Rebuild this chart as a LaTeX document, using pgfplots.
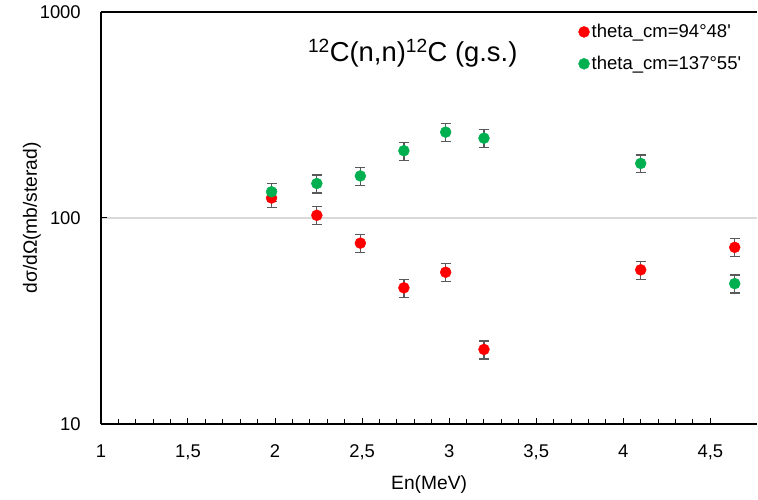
\documentclass[border=0pt]{standalone}
\usepackage{pgfplots}
\pgfplotsset{compat=1.18}
\usepackage{pgfplotstable}
\usepackage{fontspec}
\setmainfont{Liberation Sans}
\definecolor{cred}{HTML}{FF0000}
\definecolor{cgreen}{HTML}{00B050}
\definecolor{cerr}{HTML}{595959}
\definecolor{cgrid}{HTML}{D9D9D9}
\newcommand\tlf{\fontsize{18.5}{22}\selectfont}
\newcommand\lgf{\fontsize{18.6}{22}\selectfont}
\pgfplotstableread{
x y e
1.98 125 12.5
2.24 103 10.3
2.49 75.5 7.5
2.74 45.8 4.6
2.98 54.5 5.5
3.20 23.0 2.3
4.10 56.0 5.6
4.64 72.0 7.2
}\red
\pgfplotstableread{
x y e
1.98 134 13.4
2.24 147 14.7
2.49 160 16.0
2.74 212 21.2
2.98 261 26.1
3.20 244 24.4
4.10 184 18.4
4.64 48.0 4.8
}\green
\begin{document}
\begin{tikzpicture}
\begin{axis}[
  name=ax,
  scale only axis,
  width=657bp, height=412.3bp,
  xmin=1, xmax=4.77,
  ymode=log, ymin=10, ymax=1000,
  log basis y=10,
  axis x line=bottom, axis y line=left,
  axis line style={black, line width=1.3bp, -},
  xtick={1,1.5,2,2.5,3,3.5,4,4.5},
  xticklabels={{\tlf 1},{\tlf 1,5},{\tlf 2},{\tlf 2,5},{\tlf 3},{\tlf 3,5},{\tlf 4},{\tlf 4,5}},
  minor x tick num=4,
  ytick={10,100,1000},
  yticklabels={{\tlf 10},{\tlf 100},{\tlf 1000}},
  tick align=inside,
  major tick length=6bp, minor tick length=4.5bp,
  tick style={black, line width=1bp},
  ymajorgrids, major grid style={cgrid, line width=1.2bp},
  xticklabel style={anchor=north, inner sep=0pt, yshift=-21bp},
  yticklabel style={anchor=east, inner sep=0pt, xshift=-20bp},
  xlabel={En(MeV)},
  ylabel={dσ/dΩ(mb/sterad)},
  label style={font=\fontsize{19.3}{22}\selectfont},
  xlabel style={at={(axis description cs:0.5,-0.147)}, anchor=center},
  ylabel style={at={(axis description cs:-0.105,0.5)}, anchor=center},
  clip=false,
  legend style={at={(rel axis cs:0.727,0.975)}, anchor=north west, draw=none, fill=none,
    row sep=13bp, inner sep=0pt, font=\lgf,
    /tikz/every even column/.append style={column sep=3bp}},
  legend cell align=left,
  legend image code/.code={\fill (0bp,0bp) circle (5.5bp);},
  error bars/y dir=both, error bars/y explicit,
  error bars/error bar style={cerr, line width=1.3bp},
  error bars/error mark options={rotate=90, mark size=5bp, cerr, line width=1.3bp},
]
\draw[black, line width=1.3bp] (rel axis cs:0,1) -- (rel axis cs:1,1);
\addplot[only marks, mark=*, mark size=5.5bp, color=cred, mark options={fill=cred, draw=cred}]
  table[x=x, y=y, y error=e]{\red};
\addlegendentry{\lgf theta\_cm=94°48\textquotesingle}
\addplot[only marks, mark=*, mark size=5.5bp, color=cgreen, mark options={fill=cgreen, draw=cgreen}]
  table[x=x, y=y, y error=e]{\green};
\addlegendentry{\lgf theta\_cm=137°55\textquotesingle}
\node[font=\fontsize{27.5}{32}\selectfont] at (rel axis cs:0.475,0.90)
  {\textsuperscript{12}C(n,n)\textsuperscript{12}C (g.s.)};
\end{axis}
\path (ax.south west) ++(-101bp,-75.7bp) rectangle ++(758bp,500bp);
\end{tikzpicture}
\end{document}
